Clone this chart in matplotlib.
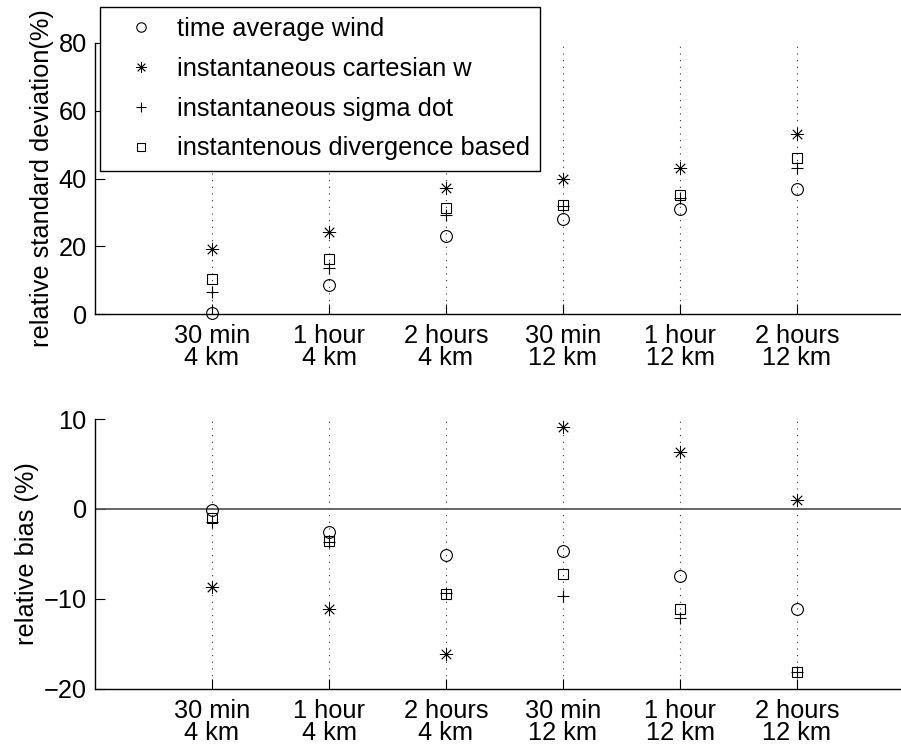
import numpy as np
import matplotlib
matplotlib.use("Agg")
import matplotlib.pyplot as plt

plt.rcParams['font.family'] = ['Liberation Sans', 'DejaVu Sans']
plt.rcParams['font.size'] = 18.3

# x categories (time window / grid spacing)
categories = ["30 min\n4 km", "1 hour\n4 km", "2 hours\n4 km",
              "30 min\n12 km", "1 hour\n12 km", "2 hours\n12 km"]

series_names = ["time average wind", "instantaneous cartesian w",
                "instantaneous sigma dot", "instantenous divergence based"]

# relative standard deviation (%)
std_time_avg = [0.2, 8.6, 23.0, 28.0, 31.1, 37.0]
std_cartesian = [19.2, 24.1, 37.1, 40.0, 43.0, 53.1]
std_sigma_dot = [6.5, 13.6, 29.2, 32.0, 34.1, 43.0]
std_divergence = [10.2, 16.1, 31.2, 32.2, 35.1, 46.1]

# relative bias (%)
bias_time_avg = [-0.1, -2.6, -5.1, -4.7, -7.4, -11.1]
bias_cartesian = [-8.7, -11.1, -16.1, 9.1, 6.3, 1.0]
bias_sigma_dot = [-1.4, -3.7, -9.3, -9.7, -12.1, -18.1]
bias_divergence = [-1.0, -3.6, -9.4, -7.2, -11.1, -18.1]

x = np.arange(1, len(categories) + 1)
asterisk = (8, 2, 0)  # matlab style '*' (plus + cross)
styles = [dict(marker='o', ms=8.5, mfc='none', mew=0.8),
          dict(marker=asterisk, ms=9.5, mew=0.6),
          dict(marker='+', ms=9, mew=0.8),
          dict(marker='s', ms=6.8, mfc='none', mew=0.8)]

fig = plt.figure(figsize=(9.01, 7.45), dpi=100)
ax1 = fig.add_axes([95 / 901, 1 - 314 / 745, 819 / 901, 271 / 745])
ax2 = fig.add_axes([95 / 901, 1 - 689 / 745, 819 / 901, 270 / 745])


def setup(ax, ylim, yticks):
    ax.set_xlim(0, 7)
    ax.set_ylim(*ylim)
    ax.set_xticks(x)
    ax.set_xticklabels(categories, linespacing=0.93)
    ax.set_yticks(yticks)
    ax.spines['top'].set_visible(False)
    ax.spines['right'].set_visible(False)
    for s in ['left', 'bottom']:
        ax.spines[s].set_linewidth(1.0)
    ax.tick_params(direction='in', length=7, width=0.8, pad=6)
    ax.tick_params(axis='x', pad=7)
    ax.xaxis.grid(True, linestyle=(0, (1, 5)), color='0.2', linewidth=0.8)
    ax.set_axisbelow(True)


setup(ax1, (0, 80), [0, 20, 40, 60, 80])
setup(ax2, (-20, 10), [-20, -10, 0, 10])

top_data = [std_time_avg, std_cartesian, std_sigma_dot, std_divergence]
bottom_data = [bias_time_avg, bias_cartesian, bias_sigma_dot, bias_divergence]

for name, vals, st in zip(series_names, top_data, styles):
    ax1.plot(x, vals, linestyle='none', color='k', mec='k',
             label=name, clip_on=False, **st)
for vals, st in zip(bottom_data, styles):
    ax2.plot(x, vals, linestyle='none', color='k', mec='k',
             clip_on=False, **st)

ax2.axhline(0, color='0.35', linewidth=1.3, zorder=1)

ax1.set_ylabel("relative standard deviation(%)", labelpad=3)
ax2.set_ylabel("relative bias (%)", labelpad=3)

leg = ax1.legend(loc='upper left', bbox_to_anchor=(100 / 901, 1 - 7 / 745),
                 bbox_transform=fig.transFigure, borderaxespad=0,
                 fancybox=False, framealpha=1, edgecolor='k',
                 handlelength=2.45, handletextpad=0.19, labelspacing=0.62,
                 borderpad=0.4, markerscale=0.8)
leg.get_frame().set_linewidth(1.0)
leg.set_zorder(10)

fig.savefig("out.png", dpi=100)
